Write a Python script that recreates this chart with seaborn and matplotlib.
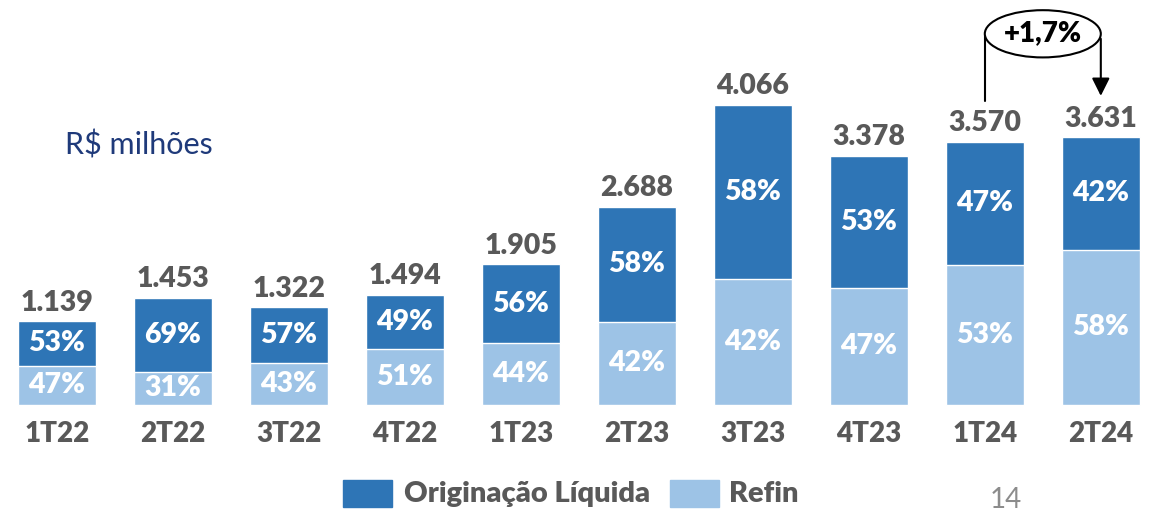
import matplotlib
matplotlib.use("Agg")
import matplotlib.pyplot as plt
from matplotlib.patches import Ellipse
import seaborn as sns
import pandas as pd

periods = ["1T22", "2T22", "3T22", "4T22", "1T23", "2T23", "3T23", "4T23", "1T24", "2T24"]
totals = [1139, 1453, 1322, 1494, 1905, 2688, 4066, 3378, 3570, 3631]
orig_pct = [53, 69, 57, 49, 56, 58, 58, 53, 47, 42]
refin_pct = [47, 31, 43, 51, 44, 42, 42, 47, 53, 58]
total_labels = ["1.139", "1.453", "1.322", "1.494", "1.905", "2.688", "4.066", "3.378", "3.570", "3.631"]
growth_label = "+1,7%"

dark = "#2E75B6"
light = "#9DC3E6"
gray = "#595959"

sns.set_theme(style="white")
plt.rcParams["font.family"] = ["Lato", "DejaVu Sans"]

df = pd.DataFrame({"period": periods, "total": totals, "refin_pct": refin_pct})
df["refin"] = df["total"] * df["refin_pct"] / 100

fig = plt.figure(figsize=(11.53, 5.2), dpi=100)
ax = fig.add_axes([0, 0, 1, 1])

sns.barplot(data=df, x="period", y="total", color=dark, width=0.67, saturation=1, ax=ax)
sns.barplot(data=df, x="period", y="refin", color=light, width=0.67, saturation=1, ax=ax)

ax.set_xlim(-0.49, 9.45)
ax.set_ylim(-1558, 5488)
ax.axis("off")

for i, row in df.iterrows():
    tot = row["total"]
    ref = row["refin"]
    ax.text(i, tot + 250, total_labels[i], ha="center", va="center", fontsize=20.5,
            fontweight="heavy", color=gray)
    ax.text(i, ref / 2, f"{refin_pct[i]}%", ha="center", va="center", fontsize=20.5,
            fontweight="heavy", color="white")
    ax.text(i, ref + (tot - ref) / 2, f"{orig_pct[i]}%", ha="center", va="center",
            fontsize=20.5, fontweight="heavy", color="white")
    ax.text(i, -390, periods[i], ha="center", va="center", fontsize=20,
            fontweight="heavy", color=gray)

fig.text(0.056, 0.722, "R$ milhões", ha="left", va="center", fontsize=22, color="#1F3A7A")

# growth annotation between last two bars
ytop = 5000
ax.plot([8, 8], [totals[8] + 550, ytop], color="black", lw=1.5)
ax.annotate("", xy=(9, totals[9] + 520), xytext=(9, ytop),
            arrowprops=dict(arrowstyle="-|>,head_width=0.45,head_length=0.9", color="black", lw=1.5))
ax.add_patch(Ellipse((8.5, 5030), width=1.0, height=640, fill=False, ec="black", lw=1.5))
ax.text(8.5, 5040, growth_label, ha="center", va="center", fontsize=20, fontweight="heavy",
        color="black")

# legend
fig.patches.append(plt.Rectangle((343 / 1153, 1 - 507 / 520), 49 / 1153, 27 / 520,
                                 transform=fig.transFigure, color=dark))
fig.text(404 / 1153, 1 - 494 / 520, "Originação Líquida", ha="left", va="center",
         fontsize=21, fontweight="heavy", color=gray)
fig.patches.append(plt.Rectangle((670 / 1153, 1 - 507 / 520), 49 / 1153, 27 / 520,
                                 transform=fig.transFigure, color=light))
fig.text(729 / 1153, 1 - 494 / 520, "Refin", ha="left", va="center",
         fontsize=21, fontweight="heavy", color=gray)
fig.text(990 / 1153, 1 - 500 / 520, "14", ha="left", va="center", fontsize=20, color="#8C8C8C")

fig.savefig("out.png", dpi=100)
